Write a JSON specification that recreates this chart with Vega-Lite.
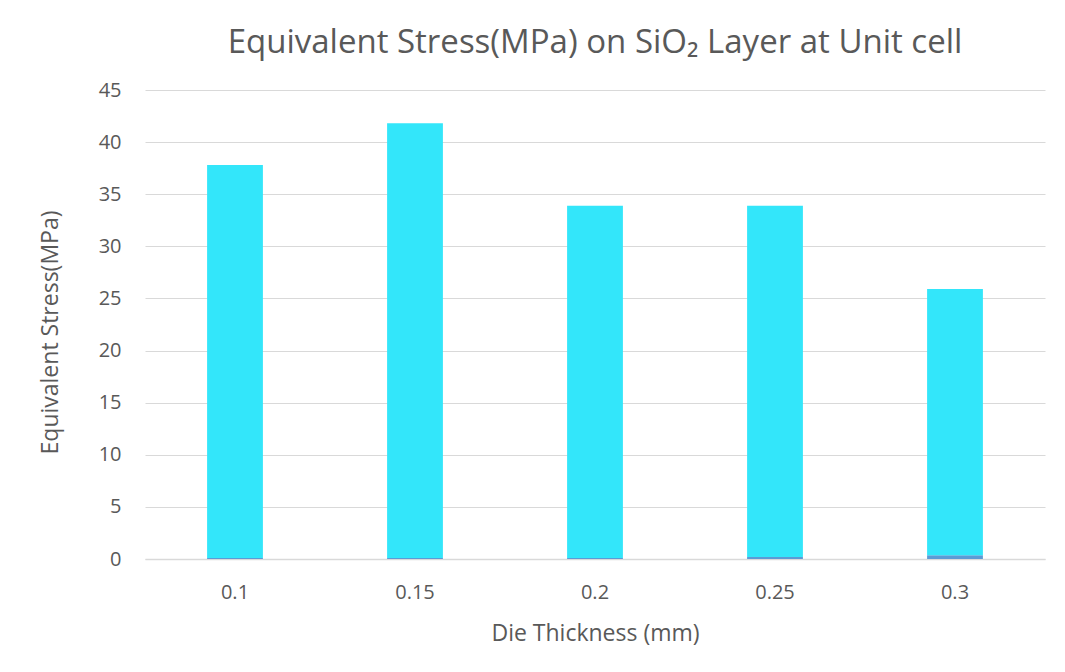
{
  "$schema": "https://vega.github.io/schema/vega-lite/v6.json",
  "autosize": "none",
  "width": 900,
  "height": 469,
  "padding": {"left": 145, "top": 90, "right": 20, "bottom": 113},
  "background": "white",
  "title": {
    "text": "Equivalent Stress(MPa) on SiO₂ Layer at Unit cell",
    "font": "Open Sans",
    "fontSize": 33,
    "fontWeight": "normal",
    "color": "#595959",
    "offset": 20,
    "anchor": "middle"
  },
  "data": {
    "values": [
      {"thickness": "0.1", "series": "base", "stress": 0.1, "ord": 1},
      {"thickness": "0.1", "series": "main", "stress": 37.7, "ord": 2},
      {"thickness": "0.15", "series": "base", "stress": 0.1, "ord": 1},
      {"thickness": "0.15", "series": "main", "stress": 41.7, "ord": 2},
      {"thickness": "0.2", "series": "base", "stress": 0.1, "ord": 1},
      {"thickness": "0.2", "series": "main", "stress": 33.8, "ord": 2},
      {"thickness": "0.25", "series": "base", "stress": 0.2, "ord": 1},
      {"thickness": "0.25", "series": "main", "stress": 33.7, "ord": 2},
      {"thickness": "0.3", "series": "base", "stress": 0.35, "ord": 1},
      {"thickness": "0.3", "series": "main", "stress": 25.55, "ord": 2}
    ]
  },
  "mark": {"type": "bar"},
  "encoding": {
    "x": {
      "field": "thickness",
      "type": "nominal",
      "sort": null,
      "scale": {"paddingInner": 0.69, "paddingOuter": 0.345},
      "axis": {
        "title": "Die Thickness (mm)",
        "labelAngle": 0,
        "labelFont": "Open Sans",
        "labelFontSize": 20,
        "labelColor": "#595959",
        "labelPadding": 23,
        "titleFont": "Open Sans",
        "titleFontSize": 23,
        "titleFontWeight": "normal",
        "titleColor": "#595959",
        "titlePadding": 20,
        "ticks": false,
        "domainColor": "#d9d9d9",
        "domainWidth": 1.5,
        "grid": false
      }
    },
    "y": {
      "field": "stress",
      "type": "quantitative",
      "stack": "zero",
      "scale": {"domain": [0, 45], "nice": false},
      "axis": {
        "title": "Equivalent Stress(MPa)",
        "values": [0, 5, 10, 15, 20, 25, 30, 35, 40, 45],
        "labelFont": "Open Sans",
        "labelFontSize": 20,
        "labelColor": "#595959",
        "labelPadding": 24,
        "titleFont": "Open Sans",
        "titleFontSize": 23,
        "titleFontWeight": "normal",
        "titleColor": "#595959",
        "titlePadding": 36,
        "titleY": 242,
        "ticks": false,
        "domain": false,
        "gridColor": "#d9d9d9",
        "gridWidth": 1
      }
    },
    "color": {
      "field": "series",
      "type": "nominal",
      "scale": {"domain": ["base", "main"], "range": ["#5b9bd5", "#33e6fa"]},
      "legend": null
    },
    "order": {"field": "ord", "type": "quantitative"}
  },
  "config": {"view": {"stroke": null}}
}
